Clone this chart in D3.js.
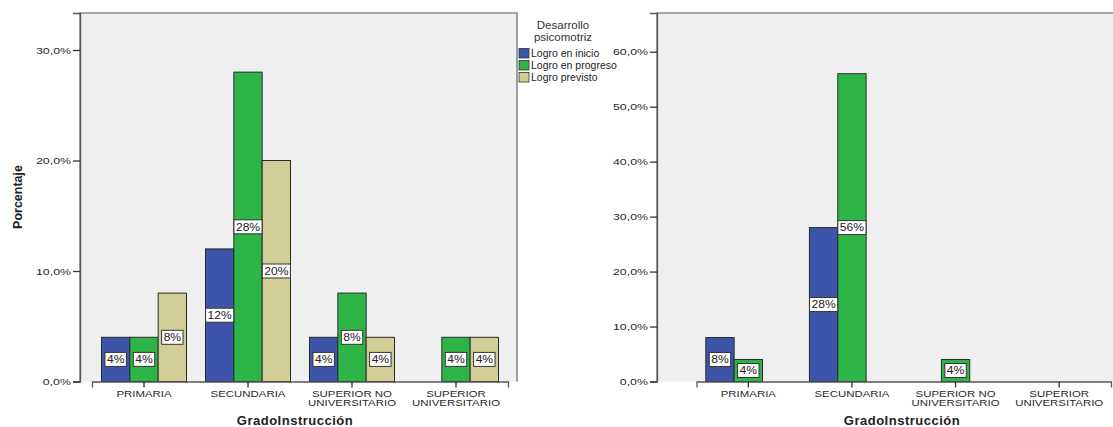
<!DOCTYPE html>
<html><head><meta charset="utf-8">
<script src="https://cdn.jsdelivr.net/npm/d3@7"></script>
<style>body{margin:0;background:#fff}svg{display:block;font-family:"Liberation Sans",Arial,sans-serif}</style>
</head><body><svg id="c" width="1113" height="427"></svg>
<script>
const categories = ["PRIMARIA","SECUNDARIA","SUPERIOR NO UNIVERSITARIO","SUPERIOR UNIVERSITARIO"];
const categoryLines = [["PRIMARIA"],["SECUNDARIA"],["SUPERIOR NO","UNIVERSITARIO"],["SUPERIOR","UNIVERSITARIO"]];
const seriesNames = ["Logro en inicio","Logro en progreso","Logro previsto"];
const seriesColors = ["#3D55A8","#2DB548","#D3CE98"];
// chart 1 values (%), null = no bar
const left_inicio   = [4, 12, 4, null];
const left_progreso = [4, 28, 8, 4];
const left_previsto = [8, 20, 4, 4];
// chart 2 values
const right_inicio   = [8, 28, null, null];
const right_progreso = [4, 56, 4, null];
const right_previsto = [null, null, null, null];
const leftTicks = [0,10,20,30];
const rightTicks = [0,10,20,30,40,50,60];
const legendTitle = ["Desarrollo","psicomotriz"];
const yTitle = "Porcentaje";
const xTitle = "GradoInstrucción";

const svg = d3.select("#c");
const fmtTick = d => d.toFixed(1).replace(".", ",") + "%";
const SX = 1.33; // horizontal stretch of small texts
const LSX = 1.15;

function drawChart(cfg){
  const g = svg.append("g");
  const {x0,x1,y0,y1} = cfg.frame;
  g.append("rect").attr("x",x0).attr("y",y1).attr("width",x1-x0).attr("height",y0-y1)
    .attr("fill","#EFEFEF");
  const y = d3.scaleLinear().domain([0,cfg.ymax]).range([y0,y1]);
  const xb = d3.scaleBand().domain(categories).range(cfg.bandRange).paddingInner(0).paddingOuter(0);
  const groupW = 85;
  const xs = d3.scaleBand().domain(seriesNames).range([0,groupW]);
  const off = (xb.bandwidth()-groupW)/2;
  const data = [];
  cfg.series.forEach((arr,si)=>arr.forEach((v,ci)=>{ if(v!=null) data.push({s:seriesNames[si],si,c:categories[ci],v}); }));
  g.selectAll("rect.bar").data(data).join("rect").attr("class","bar")
    .attr("x",d=>xb(d.c)+off+xs(d.s)).attr("width",xs.bandwidth())
    .attr("y",d=>y(d.v)).attr("height",d=>y(0)-y(d.v))
    .attr("fill",d=>seriesColors[d.si]).attr("stroke","#2a2a2a").attr("stroke-width",1);
  g.append("path").attr("d",`M${x0},${y0}V${y1}H${x1}V${y0}`).attr("fill","none")
    .attr("stroke","#8a8a8a").attr("stroke-width",1.6);
  // y axis
  const ya = g.append("g").attr("transform",`translate(${x0},0)`)
    .call(d3.axisLeft(y).tickValues(cfg.ticks).tickFormat("").tickSize(7));
  ya.select(".domain").attr("stroke","#555").attr("stroke-width",1.3);
  ya.selectAll(".tick line").attr("stroke","#333").attr("stroke-width",1.3);
  ya.selectAll(".tick").append("text").attr("text-anchor","end").attr("fill","#2a2a2a")
    .attr("transform",`translate(-9,0) scale(${SX},1)`).attr("dy","0.34em")
    .style("font-size","9.3px").text(d=>fmtTick(d));
  // x axis
  const xa = g.append("g").attr("transform",`translate(0,${y0})`)
    .call(d3.axisBottom(xb).tickSize(6).tickFormat(""));
  xa.select(".domain").attr("stroke","#555").attr("stroke-width",1.3);
  xa.selectAll(".tick line").attr("stroke","#333").attr("stroke-width",1.3);
  xa.selectAll(".tick").each(function(d,i){
    const t = d3.select(this).append("text").attr("fill","#2a2a2a").attr("text-anchor","middle")
      .attr("transform",`scale(${SX},1)`).style("font-size","8.6px");
    categoryLines[i].forEach((ln,k)=>t.append("tspan").attr("x",0).attr("y",15.5+k*8.6).text(ln));
  });
  g.append("text").attr("x",cfg.xTitleX).attr("y",425).attr("text-anchor","middle")
    .attr("font-weight","bold").style("font-size","13px").style("letter-spacing","0.5px")
    .attr("fill","#222").text(xTitle);
  // value labels
  const lab = g.selectAll("g.lab").data(data).join("g").attr("class","lab")
    .attr("transform",d=>`translate(${xb(d.c)+off+xs(d.s)+xs.bandwidth()/2},${(y(d.v)+y(0))/2})`);
  lab.append("rect");
  lab.append("text").attr("text-anchor","middle").attr("dy","0.36em").style("font-size","10.5px")
    .attr("transform",`scale(${LSX},1)`).attr("fill","#222").text(d=>d.v+"%");
  lab.each(function(){
    const w = d3.select(this).select("text").node().getComputedTextLength()*LSX;
    d3.select(this).select("rect").attr("x",-w/2-2).attr("y",-7).attr("width",w+4).attr("height",14)
      .attr("fill","#fff").attr("stroke","#333").attr("stroke-width",1);
  });
}

drawChart({frame:{x0:80,x1:517,y0:381.5,y1:13}, ymax:33.35, ticks:leftTicks,
  bandRange:[92,508], series:[left_inicio,left_progreso,left_previsto], xTitleX:295});
drawChart({frame:{x0:657,x1:1125,y0:381.5,y1:13}, ymax:67.05, ticks:rightTicks,
  bandRange:[696.5,1111], series:[right_inicio,right_progreso,right_previsto], xTitleX:902});

svg.append("text").attr("transform","translate(22,197) rotate(-90)").attr("text-anchor","middle")
  .attr("font-weight","bold").style("font-size","12.5px").attr("fill","#222").text(yTitle);

// legend
const lg = svg.append("g");
lg.selectAll("text.t").data(legendTitle).join("text").attr("class","t")
  .attr("x",563).attr("y",(d,i)=>29+i*11.7).attr("text-anchor","middle")
  .style("font-size","11.5px").attr("fill","#333").text(d=>d);
const items = lg.selectAll("g.it").data(seriesNames).join("g").attr("class","it")
  .attr("transform",(d,i)=>`translate(519,${48.5+i*12})`);
items.append("rect").attr("width",10).attr("height",9.5).attr("fill",(d,i)=>seriesColors[i])
  .attr("stroke","#333").attr("stroke-width",0.8);
items.append("text").attr("x",12).attr("y",8.5).style("font-size","10.5px").attr("fill","#222").text(d=>d);
</script></body></html>
